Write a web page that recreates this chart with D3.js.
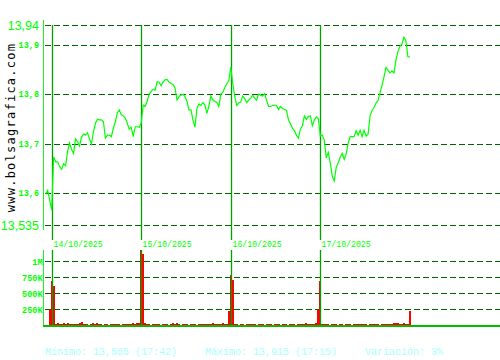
<!DOCTYPE html>
<html><head><meta charset="utf-8">
<script src="https://cdn.jsdelivr.net/npm/d3@7"></script>
<style>
html,body{margin:0;padding:0;background:#fff;}
svg{display:block;}
</style></head>
<body>
<svg id="c" width="500" height="360"></svg>
<script>
// ---- DATA ----
const price = [
13.598,13.605,13.586,13.565,13.673,13.663,13.663,13.653,13.648,13.659,
13.655,13.684,13.701,13.688,13.680,13.709,13.704,13.695,13.713,13.719,
13.717,13.722,13.709,13.699,13.724,13.741,13.749,13.748,13.748,13.744,
13.711,13.717,13.717,13.714,13.731,13.744,13.762,13.768,13.758,13.756,
13.751,13.741,13.729,13.733,13.714,13.734,13.734,13.733,13.742,13.778,
13.775,13.786,13.800,13.805,13.810,13.808,13.825,13.824,13.817,13.825,
13.829,13.830,13.824,13.822,13.819,13.812,13.788,13.795,13.798,13.800,
13.795,13.785,13.768,13.768,13.748,13.733,13.771,13.780,13.777,13.783,
13.778,13.761,13.776,13.796,13.788,13.785,13.783,13.775,13.800,13.804,
13.813,13.821,13.827,13.855,13.822,13.795,13.777,13.782,13.784,13.796,
13.791,13.783,13.788,13.792,13.798,13.792,13.788,13.800,13.798,13.796,
13.801,13.788,13.775,13.775,13.777,13.778,13.777,13.769,13.775,13.771,
13.769,13.767,13.748,13.740,13.731,13.726,13.717,13.711,13.729,13.736,
13.756,13.749,13.755,13.756,13.736,13.748,13.754,13.750,13.715,13.717,
13.707,13.671,13.682,13.661,13.634,13.624,13.652,13.661,13.672,13.680,
13.668,13.679,13.701,13.714,13.714,13.714,13.726,13.717,13.727,13.714,
13.727,13.715,13.719,13.756,13.767,13.773,13.782,13.787,13.803,13.818,
13.835,13.854,13.848,13.843,13.847,13.843,13.869,13.886,13.897,13.901,
13.915,13.908,13.876,13.875];
const volumeK = [
4,6,245,690,610,18,32,30,28,32,
18,35,20,30,18,30,20,32,55,18,
16,18,15,16,38,18,32,16,28,15,
16,18,15,16,18,16,30,16,15,18,
16,18,30,22,32,30,32,35,1180,1120,
32,18,16,15,18,16,28,16,15,16,
18,16,15,16,32,18,32,16,15,16,
18,16,15,16,18,16,15,16,18,16,
30,16,18,16,32,18,30,16,28,32,
30,28,220,790,710,28,16,15,30,16,
15,16,18,16,28,16,15,16,18,16,
15,16,18,16,15,16,18,16,15,16,
18,16,15,16,18,16,15,16,18,16,
18,45,16,18,30,28,32,240,700,18,
16,30,16,15,16,30,16,15,18,16,
15,16,18,16,15,16,30,16,18,16,
26,16,15,16,30,16,18,16,15,30,
16,30,16,18,16,38,42,34,16,30,
32,16,18,220];
const dayIndex = [3, 48, 93, 138];
const dayLabels = ["14/10/2025","15/10/2025","16/10/2025","17/10/2025"];
const priceMajor = [13.94, 13.535];
const priceMajorLabels = ["13,94","13,535"];
const priceMinor = [13.9, 13.8, 13.7, 13.6];
const priceMinorLabels = ["13,9","13,8","13,7","13,6"];
const volTicks = [250000, 500000, 750000, 1000000];
const volTickLabels = ["250K","500K","750K","1M"];
const statsTexts = ["Mínimo: 13,565 (17:42)", "Máximo: 13,915 (17:15)", "Variación: 3%"];
const watermark = "www.bolsagrafica.com";

// ---- CHART ----
const svg = d3.select("#c");
const W = 500;
const axisX = 43.5;
const x = d3.scaleLinear().domain([0, price.length - 1]).range([45.7, 45.7 + (price.length - 1) * 1.99]);
const yP = d3.scaleLinear().domain([13.535, 13.94]).range([225, 25]);
const yV = d3.scaleLinear().domain([0, 1000000]).range([325.5, 261.3]);

const gridCol = "#006400", dayCol = "#00a000", lime = "#00ff00";
const mono = "Liberation Mono, DejaVu Sans Mono, monospace";

// price gridlines
const allP = priceMajor.concat(priceMinor);
svg.append("g").attr("shape-rendering", "crispEdges").selectAll("line").data(allP).join("line")
  .attr("x1", 45).attr("x2", W)
  .attr("y1", d => Math.round(yP(d)) + 0.5).attr("y2", d => Math.round(yP(d)) + 0.5)
  .attr("stroke", gridCol).attr("stroke-width", 1).attr("stroke-dasharray", "6,3");

// volume gridlines
svg.append("g").attr("shape-rendering", "crispEdges").selectAll("line").data(volTicks).join("line")
  .attr("x1", 45).attr("x2", W)
  .attr("y1", d => Math.round(yV(d)) + 0.5).attr("y2", d => Math.round(yV(d)) + 0.5)
  .attr("stroke", gridCol).attr("stroke-width", 1).attr("stroke-dasharray", "6,3");

// volume bars
svg.append("g").attr("shape-rendering", "crispEdges").selectAll("rect").data(volumeK).join("rect")
  .attr("x", (d, i) => Math.round(x(i)) - 1).attr("width", 2)
  .attr("y", d => Math.round(yV(d * 1000))).attr("height", d => Math.max(1, 325 - Math.round(yV(d * 1000))))
  .attr("fill", "#ff0000");

// day separators
svg.append("g").selectAll("line").data(dayIndex).join("line")
  .attr("x1", d => Math.round(x(d)) + 0.5).attr("x2", d => Math.round(x(d)) + 0.5)
  .attr("y1", 25).attr("y2", 240)
  .attr("stroke", dayCol).attr("stroke-width", 1.3);
svg.append("g").selectAll("line").data(dayIndex).join("line")
  .attr("x1", d => Math.round(x(d)) + 0.5).attr("x2", d => Math.round(x(d)) + 0.5)
  .attr("y1", 250).attr("y2", 326)
  .attr("stroke", dayCol).attr("stroke-width", 1.3);

// day labels
svg.append("g").selectAll("text").data(dayIndex).join("text")
  .attr("x", d => Math.round(x(d)) + 1.5).attr("y", 247)
  .attr("font-family", mono).attr("font-size", 8.2)
  .attr("fill", lime).text((d, i) => dayLabels[i]);

// price line
svg.append("path").datum(price)
  .attr("d", d3.line().x((d, i) => x(i)).y(d => yP(d)))
  .attr("fill", "none").attr("stroke", lime).attr("stroke-width", 1.2);

// axes lines
svg.append("line").attr("x1", axisX).attr("x2", axisX).attr("y1", 20).attr("y2", 230)
  .attr("stroke", "#22ee22").attr("stroke-width", 1);
svg.append("line").attr("x1", axisX).attr("x2", axisX).attr("y1", 250).attr("y2", 327)
  .attr("stroke", "#22ee22").attr("stroke-width", 1);
svg.append("rect").attr("x", 43).attr("width", W - 43).attr("y", 325).attr("height", 2)
  .attr("fill", "#00bb00").attr("shape-rendering", "crispEdges");

// price tick labels
const gMaj = svg.append("g").attr("transform", "translate(39,0)")
  .call(d3.axisLeft(yP).tickValues(priceMajor).tickSize(0).tickFormat((d, i) => priceMajorLabels[i]));
gMaj.select(".domain").remove();
gMaj.selectAll("text").attr("font-family", "Liberation Sans, Arial, sans-serif").attr("font-size", 12.5)
  .attr("fill", lime).attr("x", 0);

const gMin = svg.append("g").attr("transform", "translate(39,0)")
  .call(d3.axisLeft(yP).tickValues(priceMinor).tickSize(0).tickFormat((d, i) => priceMinorLabels[i]));
gMin.select(".domain").remove();
gMin.selectAll("text").attr("font-family", mono).attr("font-size", 8.5)
  .attr("font-weight", "bold").attr("fill", lime).attr("x", 0);

const gVol = svg.append("g").attr("transform", "translate(42.5,0)")
  .call(d3.axisLeft(yV).tickValues(volTicks).tickSize(0).tickFormat((d, i) => volTickLabels[i]));
gVol.select(".domain").remove();
gVol.selectAll("text").attr("font-family", mono).attr("font-size", 8.5)
  .attr("font-weight", "bold").attr("fill", lime).attr("x", 0);

// watermark
svg.append("text").attr("transform", "translate(15,127.5) rotate(-90)")
  .attr("text-anchor", "middle").attr("font-family", "DejaVu Sans Mono, monospace")
  .attr("font-size", 12).attr("letter-spacing", 1.25).attr("fill", "#000").text(watermark);

// stats
const statsX = [45, 205, 365];
svg.append("g").selectAll("text").data(statsTexts).join("text")
  .attr("x", (d, i) => statsX[i]).attr("y", 355)
  .attr("font-family", mono).attr("font-size", 10)
  .attr("fill", "#a8ffff").text(d => d);
</script>
</body></html>
